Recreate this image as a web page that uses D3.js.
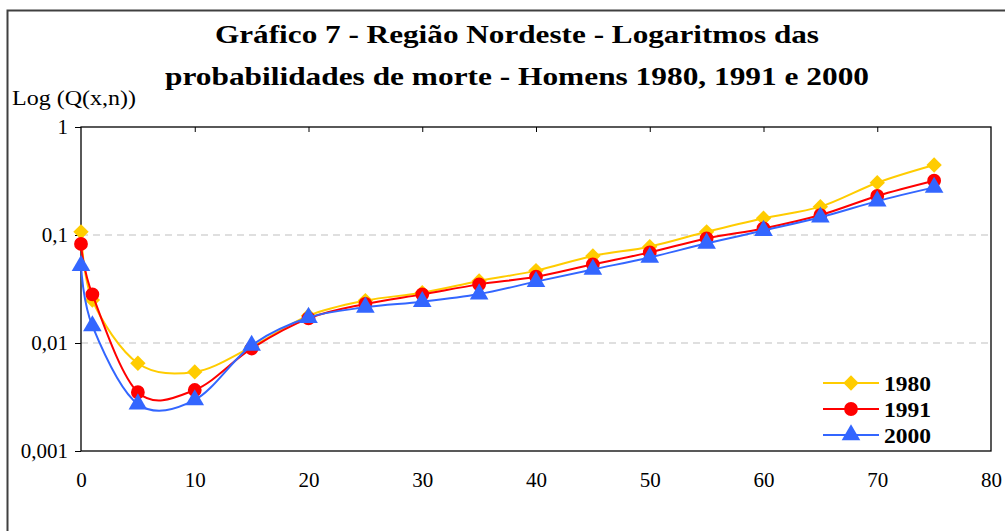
<!DOCTYPE html>
<html>
<head>
<meta charset="utf-8">
<script src="https://cdn.jsdelivr.net/npm/d3@7"></script>
<style>
  body { margin: 0; background: #fff; }
</style>
</head>
<body>
<svg id="chart" width="1005" height="531" font-family="Liberation Serif"></svg>
<script>
// idades (x)
const ages = [0, 1, 5, 10, 15, 20, 25, 30, 35, 40, 45, 50, 55, 60, 65, 70, 75];

// probabilidades de morte Q(x,n)
const q1980 = [0.107, 0.025, 0.0065, 0.0054, 0.0092, 0.0179, 0.0247, 0.0292, 0.0375, 0.0468, 0.064, 0.078, 0.107, 0.143, 0.183, 0.305, 0.445];
const q1991 = [0.0826, 0.0282, 0.0035, 0.00367, 0.0089, 0.0169, 0.023, 0.0282, 0.0349, 0.0411, 0.0535, 0.069, 0.093, 0.115, 0.153, 0.23, 0.318];
const q2000 = [0.052, 0.0144, 0.00272, 0.00297, 0.0095, 0.0172, 0.0214, 0.0241, 0.0284, 0.037, 0.048, 0.062, 0.0837, 0.110, 0.146, 0.206, 0.276];

const xTicks = [0, 10, 20, 30, 40, 50, 60, 70, 80];
const yTicks = [1, 0.1, 0.01, 0.001];
const yTickLabels = ["1", "0,1", "0,01", "0,001"];

const titleLines = ["Gráfico 7 - Região Nordeste - Logaritmos das",
                    "probabilidades de morte - Homens 1980, 1991 e 2000"];
const titleWidths = [604, 704];

const FONT = "Liberation Serif";

const series = [
  { name: "1980", values: q1980, color: "#FFCC00", symbol: d3.symbolDiamond2, size: 150 },
  { name: "1991", values: q1991, color: "#FF0000", symbol: d3.symbolCircle, size: 150 },
  { name: "2000", values: q2000, color: "#3366FF", symbol: d3.symbolTriangle, size: 150 }
];

const svg = d3.select("#chart");

const plot = { left: 81, right: 991, top: 127, bottom: 451 };

const x = d3.scaleLinear().domain([0, 80]).range([plot.left, plot.right]);
const y = d3.scaleLog().domain([0.001, 1]).range([plot.bottom, plot.top]);

// moldura externa
svg.append("rect")
  .attr("x", 7.5).attr("y", 10.5)
  .attr("width", 1010).attr("height", 540)
  .attr("fill", "none")
  .attr("stroke", "#404040")
  .attr("stroke-width", 2);

// título (o original está esticado na horizontal)
svg.append("g")
  .selectAll("text")
  .data(titleLines)
  .enter()
  .append("text")
  .attr("x", (d, i) => 517 - titleWidths[i] / 2)
  .attr("y", (d, i) => 43 + i * 42)
  .attr("textLength", (d, i) => titleWidths[i])
  .attr("lengthAdjust", "spacingAndGlyphs")
  .attr("font-family", FONT)
  .attr("font-size", 25)
  .attr("font-weight", "bold")
  .text(d => d);

svg.append("text")
  .attr("x", 12)
  .attr("y", 105)
  .attr("textLength", 124)
  .attr("lengthAdjust", "spacingAndGlyphs")
  .attr("font-family", FONT)
  .attr("font-size", 22)
  .text("Log (Q(x,n))");

// linhas de grade
svg.append("g")
  .selectAll("line")
  .data([0.1, 0.01])
  .enter()
  .append("line")
  .attr("x1", plot.left).attr("x2", plot.right)
  .attr("y1", d => y(d)).attr("y2", d => y(d))
  .attr("stroke", "#bfbfbf")
  .attr("stroke-width", 1)
  .attr("stroke-dasharray", "7,5");

// moldura da área de plotagem
svg.append("rect")
  .attr("x", plot.left).attr("y", plot.top)
  .attr("width", plot.right - plot.left)
  .attr("height", plot.bottom - plot.top)
  .attr("fill", "none")
  .attr("stroke", "#000")
  .attr("stroke-width", 1.3);

// eixo x (rótulos embaixo)
const xAxis = svg.append("g")
  .attr("transform", `translate(0,${plot.bottom})`)
  .call(d3.axisBottom(x).tickValues(xTicks).tickSize(0).tickPadding(21).tickFormat(d3.format("d")));
xAxis.select(".domain").remove();
xAxis.attr("font-family", FONT);
xAxis.selectAll("text").attr("font-size", 21).attr("font-family", FONT).attr("fill", "#000");

// marcas no topo
svg.append("g")
  .attr("transform", `translate(0,${plot.top})`)
  .call(d3.axisBottom(x).tickValues(xTicks.slice(1, -1)).tickSize(5).tickFormat(""))
  .call(g => g.select(".domain").remove())
  .selectAll("line").attr("stroke", "#000");

// eixo y
const yAxis = svg.append("g")
  .attr("transform", `translate(${plot.left},0)`)
  .call(d3.axisLeft(y).tickValues(yTicks).tickSize(6).tickPadding(7)
    .tickFormat((d, i) => yTickLabels[i]));
yAxis.select(".domain").remove();
yAxis.attr("font-family", FONT);
yAxis.selectAll("line").attr("stroke", "#000");
yAxis.selectAll("text").attr("font-size", 21).attr("font-family", FONT).attr("fill", "#000");

// séries
const line = d3.line()
  .x((d, i) => x(ages[i]))
  .y(d => y(d))
  .curve(d3.curveCardinal.tension(0));

series.forEach(s => {
  const g = svg.append("g");
  g.append("path")
    .attr("d", line(s.values))
    .attr("fill", "none")
    .attr("stroke", s.color)
    .attr("stroke-width", 2);

  g.selectAll("path.marker")
    .data(s.values)
    .enter()
    .append("path")
    .attr("class", "marker")
    .attr("d", d3.symbol().type(s.symbol).size(s.size))
    .attr("transform", (d, i) => `translate(${x(ages[i])},${y(d)})`)
    .attr("fill", s.color);
});

// legenda
const legend = svg.append("g").attr("transform", "translate(823,383)");
series.forEach((s, i) => {
  const row = legend.append("g").attr("transform", `translate(0,${i * 26})`);
  row.append("line")
    .attr("x1", 0).attr("x2", 56)
    .attr("stroke", s.color)
    .attr("stroke-width", 2);
  row.append("path")
    .attr("d", d3.symbol().type(s.symbol).size(s.size))
    .attr("transform", "translate(28,0)")
    .attr("fill", s.color);
  row.append("text")
    .attr("x", 61)
    .attr("y", 7.5)
    .attr("textLength", 47)
    .attr("lengthAdjust", "spacingAndGlyphs")
    .attr("font-family", FONT)
    .attr("font-size", 22)
    .attr("font-weight", "bold")
    .text(s.name);
});
</script>
</body>
</html>
